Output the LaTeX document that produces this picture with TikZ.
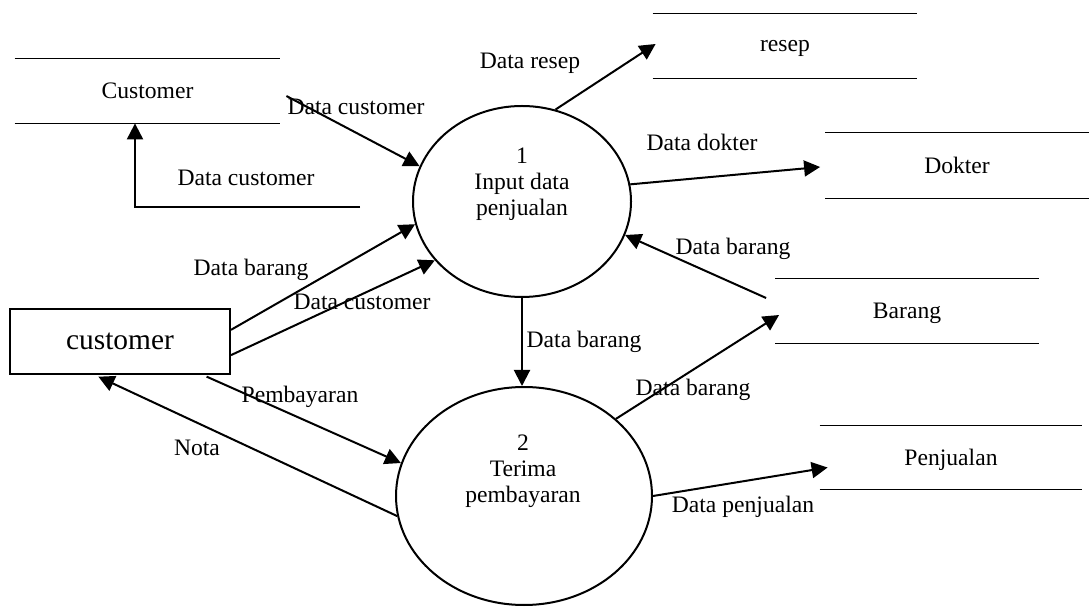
\documentclass[tikz,border=0pt]{standalone}
\usepackage{fontspec}
\setmainfont{Liberation Serif}
\usetikzlibrary{arrows.meta,shapes.geometric}
\begin{document}
\begin{tikzpicture}[x=0.5pt,y=-0.5pt,
  lbl/.style={font=\fontsize{11.8}{13}\selectfont, inner sep=0pt, align=center, text depth=0pt},
  proc/.style={draw, line width=1pt, ellipse, inner sep=0pt},
  storebox/.style={inner sep=0pt, font=\fontsize{11.8}{13}\selectfont, text depth=0pt},
  sline/.style={line width=0.7pt},
  flow/.style={line width=1pt, -{Triangle[length=8pt,width=8pt]}}]
\useasboundingbox (0,0) rectangle (1090,613);

% processes
\node[proc, minimum width=109pt, minimum height=95.5pt] (e1) at (522,201.5) {};
\node[lbl] (e1t) at (522,182) {1\\Input data\\penjualan};
\node[proc, minimum width=128pt, minimum height=109pt] (e2) at (524,496) {};
\node[lbl] (e2t) at (523,469) {2\\Terima\\pembayaran};

% external entity
\node[draw, line width=1pt, minimum width=110pt, minimum height=32.5pt, inner sep=0pt,
      font=\fontsize{14.7}{16}\selectfont] (cust) at (120,341.5) {customer};

% data stores
\node[storebox, minimum width=132.5pt, minimum height=32pt] (cs) at (147.5,91) {Customer};
\node[storebox, minimum width=132pt, minimum height=32pt] (resep) at (785,46) {resep};
\node[storebox, minimum width=131.5pt, minimum height=32.5pt] (dokter) at (957,165.5) {Dokter};
\node[storebox, minimum width=131.5pt, minimum height=32pt] (barang) at (907,311) {Barang};
\node[storebox, minimum width=131pt, minimum height=31.5pt] (penj) at (951,457.5) {Penjualan};
\foreach \s in {cs,resep,dokter,barang,penj}{
  \draw[sline] (\s.north west) -- (\s.north east) (\s.south west) -- (\s.south east);
}

% flows
\draw[flow] ([shift={(6,5)}]cs.east) -- (e1.161.6);
\coordinate (lc) at (360,207);
\coordinate (lcb) at (135,207);
\draw[flow] (lc) -- (lcb) -- (lcb |- cs.south);
\draw[flow] (cust.6.5) -- (e1.192);
\draw[flow] (cust.-7) -- (e1.214);
\draw[flow] (e1.70) -- ([shift={(3,-2)}]resep.west);
\draw[flow] (e1.9.6) -- ([shift={(-5,1.5)}]dokter.west);
\draw[flow] ([shift={(-9,-13)}]barang.west) -- (e1.-18.5);
\draw[flow] (e1.270) -- (e1.270 |- e2.north);
\draw[flow] (e2.40) -- ([shift={(4,4)}]barang.west);
\draw[flow, shorten <=2pt] (cust.-22.6) -- (e2.165);
\draw[flow, shorten >=2pt] (e2.189) -- (cust.-127.6);
\draw[flow] (e2.0) -- ([shift={(8,10)}]penj.west);

% flow labels
\node[lbl] (l1) at (356,107) {Data customer};
\node[lbl] (l2) at (246,178) {Data customer};
\node[lbl] (l3) at (530,61) {Data resep};
\node[lbl] (l4) at (702,142) {Data dokter};
\node[lbl] (l5) at (733,246) {Data barang};
\node[lbl] (l6) at (251,267) {Data barang};
\node[lbl] (l7) at (362,302) {Data customer};
\node[lbl] (l8) at (300,394) {Pembayaran};
\node[lbl] (l9) at (197,448) {Nota};
\node[lbl] (l10) at (584,339) {Data barang};
\node[lbl] (l11) at (693,387) {Data barang};
\node[lbl] (l12) at (743,504) {Data penjualan};
\end{tikzpicture}
\end{document}
